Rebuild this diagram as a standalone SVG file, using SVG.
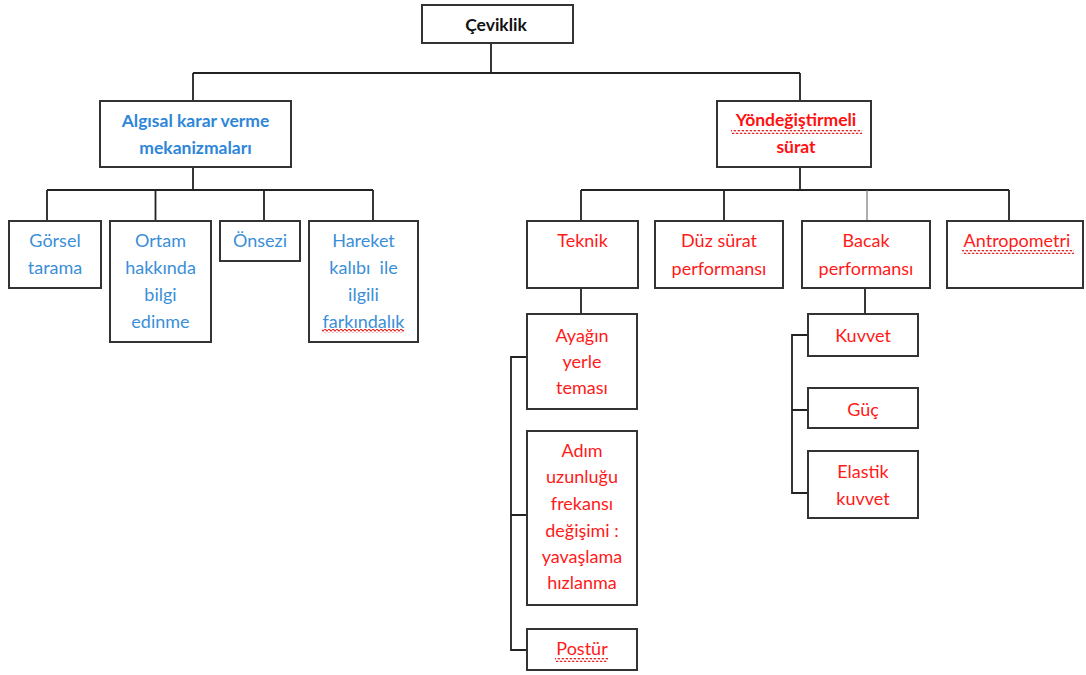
<svg xmlns="http://www.w3.org/2000/svg" width="1086" height="675" viewBox="0 0 1086 675">
<style>
.box{fill:#fff;stroke:#333;stroke-width:2}
.ln{fill:none;stroke:#222;stroke-width:1.8}
.thin{fill:none;stroke:#777;stroke-width:1.2}
text{font-family:Lato,"Open Sans","Liberation Sans",sans-serif;text-anchor:middle}
.t0{font-size:17.5px;font-weight:bold;fill:#111}
.bb{font-size:17.5px;font-weight:bold;fill:#2e86d9}
.rb{font-size:17.5px;font-weight:bold;fill:#ff1010}
.b{font-size:18px;fill:#3a8fd8}
.r{font-size:18px;fill:#ff1a1a}
</style>
<defs>
<pattern id="wave" x="0" y="0" width="4" height="4" patternUnits="userSpaceOnUse">
<path d="M0,2 Q1,0 2,2 T4,2" fill="none" stroke="#e01818" stroke-width="1.2"/>
</pattern>
</defs>
<rect width="1086" height="675" fill="#fff"/>
<g id="connectors">
<path class="ln" d="M491,43V73M193,73H800M193,73V101M800,73V101"/>
<path class="ln" d="M193,167V190M47,190H373M47,190V221M155.5,190V221M264,190V221M373,190V221"/>
<path class="ln" d="M800,167V190M581,190H1009M581,190V221M724,190V221M1009,190V221"/>
<path class="thin" d="M867,190V221"/>
<path class="ln" d="M581,288V314M527,357H511V650H527M511,515H527"/>
<path class="ln" d="M865,288V314M808,335H792V493H808M792,410H808"/>
</g>
<g id="ceviklik"><rect class="box" x="422" y="5" width="151" height="38"/><text class="t0" x="496" y="31">Çeviklik</text></g>
<g id="algisal"><rect class="box" x="100" y="101" width="191" height="66"/><text class="bb" x="195.5" y="127">Algısal karar verme</text><text class="bb" x="195.5" y="154">mekanizmaları</text></g>
<g id="yondegistirmeli"><rect class="box" x="717" y="101" width="154" height="66"/><text class="rb" x="796" y="126">Yöndeğiştirmeli</text><text class="rb" x="796" y="153">sürat</text><rect x="731" y="130" width="131" height="4" fill="url(#wave)"/></g>
<g id="gorsel"><rect class="box" x="9" y="221" width="92" height="67"/><text class="b" x="55" y="247">Görsel</text><text class="b" x="55" y="274">tarama</text></g>
<g id="ortam"><rect class="box" x="110" y="221" width="101" height="121"/><text class="b" x="160.5" y="247">Ortam</text><text class="b" x="160.5" y="274">hakkında</text><text class="b" x="160.5" y="301">bilgi</text><text class="b" x="160.5" y="328">edinme</text></g>
<g id="onsezi"><rect class="box" x="220" y="221" width="80" height="40"/><text class="b" x="260" y="247">Önsezi</text></g>
<g id="hareket"><rect class="box" x="309" y="221" width="109" height="121"/><text class="b" x="363.5" y="247">Hareket</text><text class="b" x="363.5" y="274" xml:space="preserve">kalıbı  ile</text><text class="b" x="363.5" y="301">ilgili</text><text class="b" x="363.5" y="328">farkındalık</text><rect x="322" y="329" width="82" height="4" fill="url(#wave)"/></g>
<g id="teknik"><rect class="box" x="527" y="221" width="111" height="67"/><text class="r" x="582.5" y="247">Teknik</text></g>
<g id="duz"><rect class="box" x="655" y="221" width="128" height="67"/><text class="r" x="719" y="247">Düz sürat</text><text class="r" x="719" y="275">performansı</text></g>
<g id="bacak"><rect class="box" x="802" y="221" width="128" height="67"/><text class="r" x="866" y="247">Bacak</text><text class="r" x="866" y="275">performansı</text></g>
<g id="antropometri"><rect class="box" x="947" y="221" width="136" height="67"/><text class="r" x="1017" y="247">Antropometri</text><rect x="962" y="250" width="112" height="4" fill="url(#wave)"/></g>
<g id="ayagin"><rect class="box" x="527" y="314" width="110" height="95"/><text class="r" x="582" y="342">Ayağın</text><text class="r" x="582" y="368">yerle</text><text class="r" x="582" y="394">teması</text></g>
<g id="adim"><rect class="box" x="527" y="431" width="110" height="174"/><text class="r" x="582" y="457">Adım</text><text class="r" x="582" y="483">uzunluğu</text><text class="r" x="582" y="510">frekansı</text><text class="r" x="582" y="537">değişimi :</text><text class="r" x="582" y="563">yavaşlama</text><text class="r" x="582" y="589">hızlanma</text></g>
<g id="postur"><rect class="box" x="527" y="629" width="110" height="41"/><text class="r" x="582" y="655">Postür</text><rect x="555" y="658" width="53" height="4" fill="url(#wave)"/></g>
<g id="kuvvet"><rect class="box" x="808" y="314" width="110" height="42"/><text class="r" x="863" y="342">Kuvvet</text></g>
<g id="guc"><rect class="box" x="808" y="388" width="110" height="40"/><text class="r" x="863" y="416">Güç</text></g>
<g id="elastik"><rect class="box" x="808" y="451" width="110" height="67"/><text class="r" x="863" y="478">Elastik</text><text class="r" x="863" y="505">kuvvet</text></g>
</svg>
